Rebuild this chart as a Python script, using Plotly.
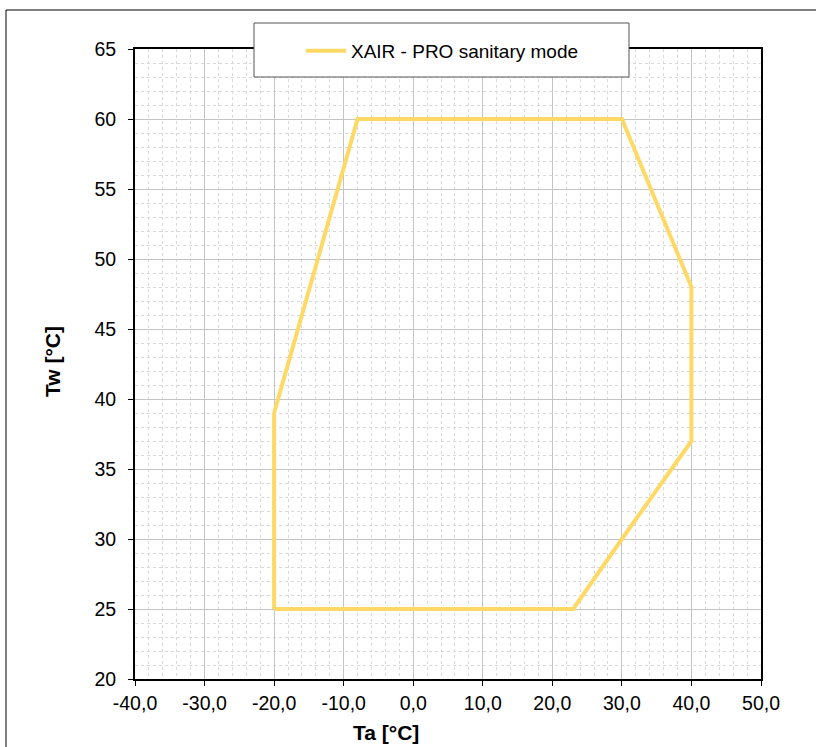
import plotly.graph_objects as go

# operating envelope
ta = [-20, 23, 30, 40, 40, 30, -8, -20, -20]
tw = [25, 25, 30, 37, 48, 60, 60, 39, 25]

x_tick_vals = [-40, -30, -20, -10, 0, 10, 20, 30, 40, 50]
x_tick_text = ["-40,0", "-30,0", "-20,0", "-10,0", "0,0", "10,0", "20,0",
               "30,0", "40,0", "50,0"]
y_tick_vals = [20, 25, 30, 35, 40, 45, 50, 55, 60, 65]
y_tick_text = [str(v) for v in y_tick_vals]

series_name = "XAIR - PRO sanitary mode"
line_color = "#FFD966"
font_family = "Liberation Sans, Arial, sans-serif"

W, H = 816, 747
ml, mr, mt, mb = 135, 55, 49, 68
pw, ph = W - ml - mr, H - mt - mb


def px_x(p):
    return (p - ml) / pw


def px_y(p):
    return (H - mb - p) / ph


fig = go.Figure()
fig.add_trace(go.Scatter(x=ta, y=tw, mode="lines", name=series_name,
                         line=dict(color=line_color, width=4)))

axis_common = dict(showline=True, linecolor="black", linewidth=2,
                   mirror=True, ticks="outside", ticklen=5,
                   tickcolor="black", tickwidth=1, zeroline=False,
                   showgrid=True, gridcolor="#c4c4c4", gridwidth=1,
                   tickfont=dict(family=font_family, size=19.5,
                                 color="black"))

fig.update_xaxes(range=[-40, 50], tickvals=x_tick_vals,
                 ticktext=x_tick_text, ticklabelstandoff=1,
                 minor=dict(dtick=2, tick0=0, showgrid=True,
                            gridcolor="#d9d9d9", griddash="dot",
                            ticks=""),
                 **axis_common)
fig.update_yaxes(range=[20, 65], tickvals=y_tick_vals,
                 ticktext=y_tick_text, ticklabelstandoff=8,
                 minor=dict(dtick=1, tick0=0, showgrid=True,
                            gridcolor="#d9d9d9", griddash="dot",
                            ticks=""),
                 **axis_common)

# outer chart frame and legend box
fig.add_shape(type="rect", xref="paper", yref="paper",
              x0=px_x(6), x1=px_x(830), y0=px_y(760), y1=px_y(10),
              line=dict(color="black", width=1), layer="below")
fig.add_shape(type="rect", xref="paper", yref="paper",
              x0=px_x(254), x1=px_x(629), y0=px_y(77), y1=px_y(23),
              line=dict(color="#555555", width=1), fillcolor="white",
              layer="above")

fig.add_annotation(text="<b>Ta [°C]</b>", xref="paper", yref="paper",
                   x=px_x(386), y=px_y(732), showarrow=False,
                   xanchor="center", yanchor="middle",
                   font=dict(family=font_family, size=21, color="black"))
fig.add_annotation(text="<b>Tw [°C]</b>", xref="paper", yref="paper",
                   x=px_x(52), y=px_y(362), showarrow=False, textangle=-90,
                   xanchor="center", yanchor="middle",
                   font=dict(family=font_family, size=21, color="black"))

fig.update_layout(
    width=W, height=H,
    margin=dict(l=ml, r=mr, t=mt, b=mb),
    paper_bgcolor="white", plot_bgcolor="white",
    showlegend=True,
    legend=dict(x=px_x(301), y=px_y(51), xanchor="left", yanchor="middle",
                bgcolor="rgba(0,0,0,0)", borderwidth=0, itemwidth=40,
                font=dict(family=font_family, size=19, color="black")),
)

fig.write_html("out.html", config={"displayModeBar": False},
               post_script="document.body.style.margin='0';")
